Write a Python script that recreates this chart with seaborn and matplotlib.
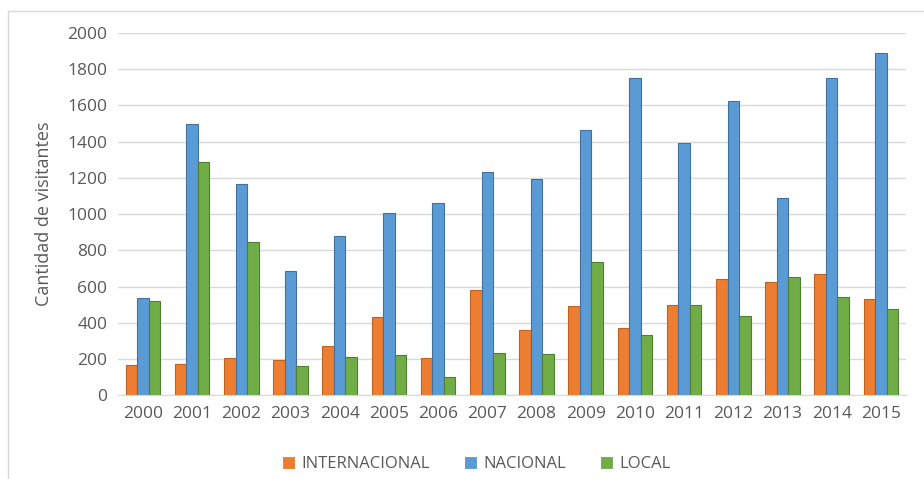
import pandas as pd
import matplotlib.pyplot as plt
import seaborn as sns
from matplotlib.patches import Rectangle

# Datos
anios = [str(a) for a in range(2000, 2016)]
internacional = [165, 170, 205, 195, 270, 430, 205, 580, 360, 490, 370, 500, 640, 625, 670, 530]
nacional = [535, 1500, 1165, 685, 880, 1005, 1060, 1230, 1195, 1465, 1750, 1395, 1625, 1090, 1750, 1890]
local = [520, 1290, 845, 160, 210, 220, 100, 235, 230, 735, 335, 500, 435, 655, 540, 475]

series = ["INTERNACIONAL", "NACIONAL", "LOCAL"]
colores = {"INTERNACIONAL": "#ED7D31", "NACIONAL": "#5B9BD5", "LOCAL": "#70AD47"}
bordes = {"INTERNACIONAL": "#C0621F", "NACIONAL": "#41719C", "LOCAL": "#507E32"}

df = pd.DataFrame({"anio": anios, "INTERNACIONAL": internacional,
                   "NACIONAL": nacional, "LOCAL": local})
df_largo = df.melt(id_vars="anio", var_name="tipo", value_name="visitantes")

sns.set_style("white")
plt.rcParams["font.family"] = ["Open Sans", "DejaVu Sans"]

fig = plt.figure(figsize=(9.24, 4.79), dpi=100)
ax = fig.add_axes([0.128, 0.175, 0.852, 0.756])

sns.barplot(data=df_largo, x="anio", y="visitantes", hue="tipo",
            hue_order=series, palette=colores, width=0.7, ax=ax,
            errorbar=None, linewidth=0.8, saturation=1)

# bordes más oscuros por serie
for cont, s in zip(ax.containers, series):
    for barra in cont:
        barra.set_edgecolor(bordes[s])

ax.set_ylim(0, 2000)
ax.set_yticks(range(0, 2001, 200))
ax.set_xlim(-0.5, len(anios) - 0.5)
ax.yaxis.grid(True, color="#D9D9D9", linewidth=1)
ax.set_axisbelow(True)
for lado in ["top", "right", "left"]:
    ax.spines[lado].set_visible(False)
ax.spines["bottom"].set_color("#D9D9D9")
ax.tick_params(axis="both", length=0, labelsize=12.5, colors="#595959", pad=8)
ax.set_xlabel("")
ax.set_ylabel("Cantidad de visitantes", fontsize=13, color="#595959", labelpad=10)

# leyenda inferior
ax.legend(loc="center", bbox_to_anchor=(0.455, -0.19), ncol=3, frameon=False,
          fontsize=12, handlelength=0.8, handleheight=0.8, columnspacing=2.0,
          handletextpad=0.4, labelcolor="#595959")

# marco exterior
fig.patches.append(Rectangle((8 / 924, -0.01), 1.0, 1 - 11 / 479 + 0.01,
                             transform=fig.transFigure, fill=False,
                             edgecolor="#D9D9D9", linewidth=1))

fig.savefig("out.png", dpi=100)
